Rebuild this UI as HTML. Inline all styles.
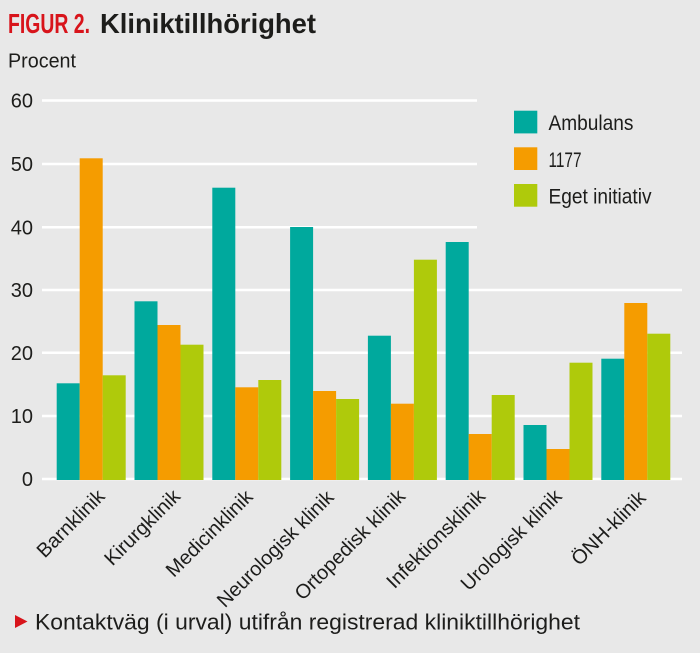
<!DOCTYPE html>
<html><head><meta charset="utf-8"><style>
html,body{margin:0;padding:0;background:#e8e8e8;}
svg{display:block;}
text{font-family:"Liberation Sans",Arial,sans-serif;fill:#1d1d1b;}
</style></head><body>
<svg width="700" height="653" viewBox="0 0 700 653" xmlns="http://www.w3.org/2000/svg">
<rect x="0" y="0" width="700" height="653" fill="#e8e8e8"/>
<!-- title -->
<text x="8" y="33" font-size="28" font-weight="bold" style="fill:#d8141b" textLength="82" lengthAdjust="spacingAndGlyphs">FIGUR 2.</text>
<text x="100" y="33" font-size="28" font-weight="bold" textLength="216" lengthAdjust="spacingAndGlyphs">Kliniktillhörighet</text>
<text x="8" y="67.5" font-size="20" textLength="68" lengthAdjust="spacingAndGlyphs">Procent</text>
<!-- gridlines -->
<g stroke="#ffffff" stroke-width="2.5">
<line x1="42" y1="479" x2="682" y2="479"/>
<line x1="42" y1="416" x2="682" y2="416"/>
<line x1="42" y1="352.7" x2="682" y2="352.7"/>
<line x1="42" y1="290" x2="682" y2="290"/>
<line x1="42" y1="227.3" x2="477" y2="227.3"/>
<line x1="42" y1="164" x2="477" y2="164"/>
<line x1="42" y1="100.5" x2="477" y2="100.5"/>
</g>
<!-- y labels -->
<g font-size="20" text-anchor="end">
<text x="33" y="486">0</text>
<text x="33" y="423">10</text>
<text x="33" y="360">20</text>
<text x="33" y="297">30</text>
<text x="33" y="234.5">40</text>
<text x="33" y="171">50</text>
<text x="33" y="107.5">60</text>
</g>
<!-- bars -->
<g>
<rect x="56.7" y="383.3" width="23" height="96.7" fill="#00a99d"/>
<rect x="79.7" y="158.3" width="23" height="321.7" fill="#f59c00"/>
<rect x="102.7" y="375.3" width="23" height="104.7" fill="#afca0b"/>

<rect x="134.5" y="301.3" width="23" height="178.7" fill="#00a99d"/>
<rect x="157.5" y="325" width="23" height="155" fill="#f59c00"/>
<rect x="180.5" y="344.7" width="23" height="135.3" fill="#afca0b"/>

<rect x="212.3" y="187.7" width="23" height="292.3" fill="#00a99d"/>
<rect x="235.3" y="387.3" width="23" height="92.7" fill="#f59c00"/>
<rect x="258.3" y="380" width="23" height="100" fill="#afca0b"/>

<rect x="290.1" y="227" width="23" height="253" fill="#00a99d"/>
<rect x="313.1" y="391" width="23" height="89" fill="#f59c00"/>
<rect x="336.1" y="399" width="23" height="81" fill="#afca0b"/>

<rect x="367.9" y="335.7" width="23" height="144.3" fill="#00a99d"/>
<rect x="390.9" y="403.7" width="23" height="76.3" fill="#f59c00"/>
<rect x="413.9" y="259.7" width="23" height="220.3" fill="#afca0b"/>

<rect x="445.7" y="242" width="23" height="238" fill="#00a99d"/>
<rect x="468.7" y="434" width="23" height="46" fill="#f59c00"/>
<rect x="491.7" y="395" width="23" height="85" fill="#afca0b"/>

<rect x="523.5" y="425" width="23" height="55" fill="#00a99d"/>
<rect x="546.5" y="449" width="23" height="31" fill="#f59c00"/>
<rect x="569.5" y="362.7" width="23" height="117.3" fill="#afca0b"/>

<rect x="601.3" y="358.7" width="23" height="121.3" fill="#00a99d"/>
<rect x="624.3" y="303" width="23" height="177" fill="#f59c00"/>
<rect x="647.3" y="333.7" width="23" height="146.3" fill="#afca0b"/>
</g>
<!-- x labels -->
<g font-size="20" text-anchor="end">
<text transform="translate(106,497.5) rotate(-45)">Barnklinik</text>
<text transform="translate(181.5,497.5) rotate(-45)">Kirurgklinik</text>
<text transform="translate(254,498) rotate(-45)">Medicinklinik</text>
<text transform="translate(335,498.5) rotate(-45)">Neurologisk klinik</text>
<text transform="translate(406.5,497.5) rotate(-45)">Ortopedisk klinik</text>
<text transform="translate(486.5,497.5) rotate(-45)">Infektionsklinik</text>
<text transform="translate(563,497.5) rotate(-45)">Urologisk klinik</text>
<text transform="translate(647,499) rotate(-45)">ÖNH-klinik</text>
</g>
<!-- legend -->
<rect x="514" y="110.7" width="23.3" height="22.7" fill="#00a99d"/>
<rect x="514" y="147.3" width="23.3" height="22.7" fill="#f59c00"/>
<rect x="514" y="184" width="23.3" height="22.7" fill="#afca0b"/>
<g font-size="21">
<text x="548.5" y="130" textLength="85" lengthAdjust="spacingAndGlyphs">Ambulans</text>
<text x="548.5" y="167" textLength="33" lengthAdjust="spacingAndGlyphs">1177</text>
<text x="548.5" y="203.5" textLength="103" lengthAdjust="spacingAndGlyphs">Eget initiativ</text>
</g>
<!-- footer -->
<polygon points="15,615 27.5,621.5 15,628" fill="#d8141b"/>
<text x="35" y="629.5" font-size="22.5" textLength="545" lengthAdjust="spacingAndGlyphs">Kontaktväg (i urval) utifrån registrerad kliniktillhörighet</text>
</svg>
</body></html>
